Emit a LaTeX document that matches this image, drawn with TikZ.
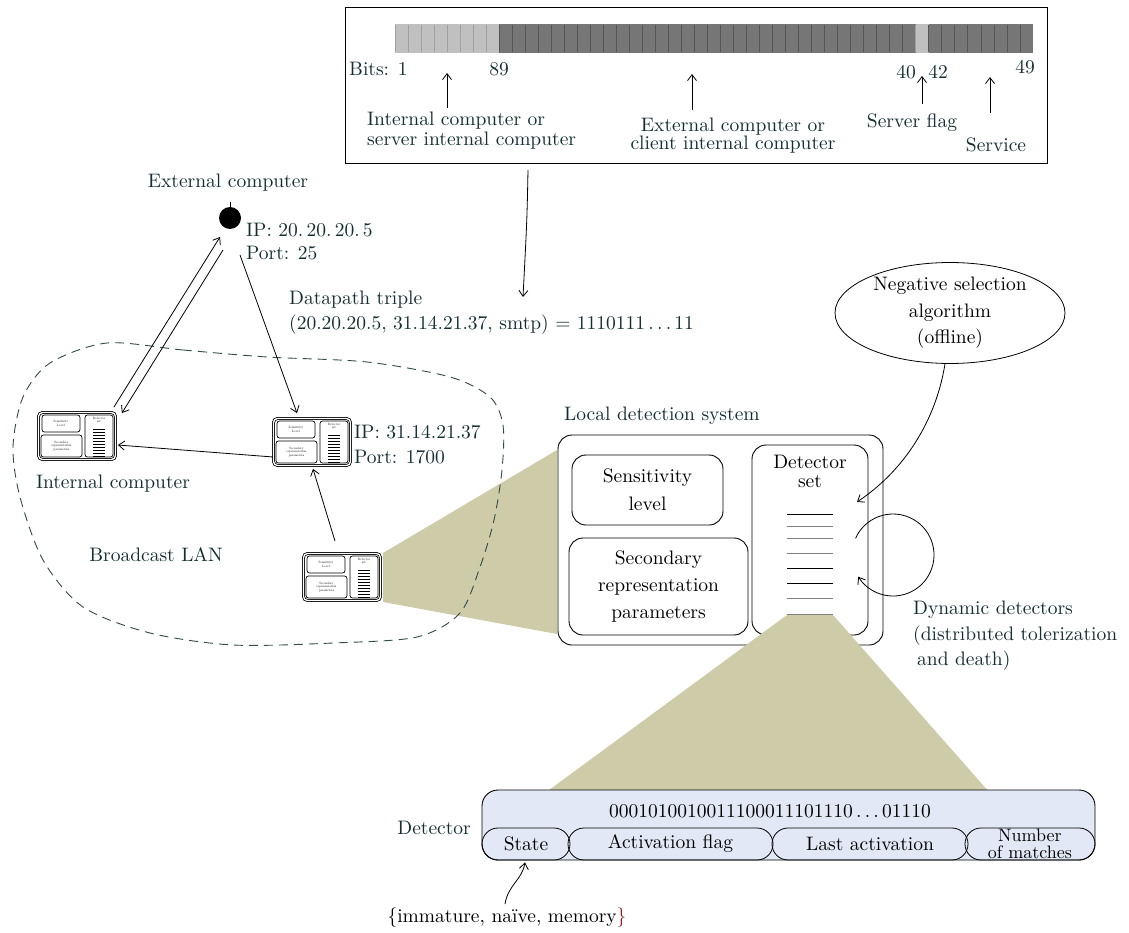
\documentclass[tikz,border=0pt]{standalone}
\usepackage{fontspec}
\setmainfont{lmroman10-regular.otf}
\usetikzlibrary{arrows.meta,shapes.geometric,calc}
\definecolor{labc}{RGB}{20,46,50}
\definecolor{khaki}{RGB}{205,203,168}
\definecolor{detblue}{RGB}{226,232,245}
\definecolor{bitlight}{RGB}{192,192,192}
\definecolor{bitdark}{RGB}{118,118,118}
\definecolor{seplight}{RGB}{160,160,160}
\definecolor{sepdark}{RGB}{85,85,85}
\definecolor{lanc}{RGB}{50,75,70}
\definecolor{braceR}{RGB}{150,30,30}
\begin{document}
\begin{tikzpicture}[x=1pt,y=-1pt,font=\fontsize{19.5}{24}\selectfont,
  lab/.style={text=labc,inner sep=0pt},
  txt/.style={inner sep=0pt},
  arr/.style={-{Straight Barb[length=6pt,width=9pt]},line width=0.8pt},
  bx/.style={draw,line width=0.9pt,rounded corners=14pt,align=center,inner sep=0pt},
  tinyfont/.style={font=\fontsize{3.2}{3.7}\selectfont,align=center,inner sep=0pt},
  comp/.pic={
    \node[draw,line width=0.8pt,double,double distance=1.3pt,rounded corners=4pt,
          minimum width=77pt,minimum height=47pt,inner sep=0pt] (-box) {};
    \draw[rounded corners=2.5pt,line width=0.7pt] (-35,-21) rectangle (3,-4);
    \node[tinyfont] (-sl) at (-16,-12.5) {Sensitivity\\Level};
    \draw[rounded corners=2.5pt,line width=0.7pt] (-36,-1) rectangle (5,21);
    \node[tinyfont] (-sr) at (-15.5,10) {Secondary\\representation\\parameters};
    \draw[rounded corners=2.5pt,line width=0.7pt] (8,-21) rectangle (36,21);
    \node[tinyfont] (-ds) at (22,-16) {Detector\\set};
    \foreach \yy in {-7,-4,...,20} \draw[line width=0.9pt] (16,\yy) -- (28,\yy);
  }]
\useasboundingbox (0,0) rectangle (1129,933);

% ---------- top bit field box ----------
\node[draw,line width=1pt,minimum width=702pt,minimum height=156pt,anchor=north west,inner sep=0pt] (topbox) at (345,7) {};
\foreach \i in {0,...,48}{
  \pgfmathsetmacro{\xa}{395+\i*13.02}
  \pgfmathsetmacro{\xb}{\xa+13.02}
  \ifnum\i<8 \def\fc{bitlight}\def\dc{seplight}\else
    \ifnum\i=40 \def\fc{bitlight}\def\dc{seplight}\else\def\fc{bitdark}\def\dc{sepdark}\fi\fi
  \fill[\fc] (\xa,24) rectangle (\xb,53);
  \draw[\dc,line width=0.8pt] (\xa,25) -- (\xa,52);
}
\node[lab,anchor=west] (bits1) at (349,69) {Bits: 1};
\node[lab] (b89) at (499,69) {89};
\node[lab] (b40) at (906,72) {40};
\node[lab] (b42) at (938,72) {42};
\node[lab] (b49) at (1025,67) {49};
\node[lab,anchor=west,align=left,font=\fontsize{19.5}{20}\selectfont] (intlab) at (367,131) {Internal computer or\\server internal computer};
\node[lab,align=center,font=\fontsize{19.5}{18}\selectfont] (extlab) at (733,136) {External computer or\\client internal computer};
\node[lab] (srvlab) at (912,123) {Server flag};
\node[lab] (svclab) at (996,145) {Service};
\coordinate (t1a) at (447,108); \coordinate (t1b) at (447,73);
\coordinate (t2a) at (692,110); \coordinate (t2b) at (692,74);
\coordinate (t3a) at (922,104); \coordinate (t3b) at (922,76);
\coordinate (t4a) at (990,113); \coordinate (t4b) at (990,77);
\draw[arr] (t1a) -- (t1b);
\draw[arr] (t2a) -- (t2b);
\draw[arr] (t3a) -- (t3b);
\draw[arr] (t4a) -- (t4b);
\coordinate (tbout) at (528,170);
\coordinate (dptip) at (523,297);
\draw[arr] (tbout) .. controls (527,220) .. (dptip);

% ---------- external computer ----------
\node[circle,fill=black,minimum size=22pt,inner sep=0pt] (ext) at (230,218) {};
\draw[line width=0.8pt] (ext.north) -- ++(0,-5);
\node[lab] (extname) at (228,183) {External computer};
\node[lab,anchor=west,align=left,font=\fontsize{19.5}{23}\selectfont] (extip) at (246,241.5) {IP: 20.\,20.\,20.\,5\\Port: 25};
\node[lab,anchor=west,align=left,font=\fontsize{19.5}{25}\selectfont] (dp) at (289,312.5) {Datapath triple\\(20.20.20.5, 31.14.21.37, smtp) = 1110111\,.\,.\,.\,11};

% khaki zoom wedge 1
\fill[khaki] (383,553) -- (557,450) -- (557,634) -- (383,602) -- cycle;

% ---------- LAN ----------
\draw[lanc,line width=0.9pt,dash pattern=on 9pt off 6pt] plot[smooth cycle] coordinates {
 (107,343) (183,350) (267,357) (367,362) (450,377) (490,397) (503,425) (502,470)
 (494,520) (480,567) (460,613) (417,637) (333,643) (233,645) (150,633) (83,607)
 (43,560) (20,497) (13,447) (23,397) (50,363)};

\pic (c1) at (77,436) {comp};
\pic (c2) at (312,442) {comp};
\pic (c3) at (342,577) {comp};

\draw[arr] ($(c1-box.north east)+(-2,-5)$) -- ($(ext)+(-10,19)$);
\draw[arr] ($(ext)+(-7,32)$) -- ($(c1-box.north east)+(6,1)$);
\draw[arr] ($(ext)+(10,37)$) -- ($(c2-box.north)+(-15,-5)$);
\draw[arr] ($(c2-box.west)+(0,15)$) -- ($(c1-box.east)+(2,9)$);
\draw[arr] ($(c3-box.north)+(-7,-12)$) -- ($(c2-box.south)+(1,3)$);

\node[lab] (intname) at (113,484) {Internal computer};
\node[lab,anchor=west,align=left,font=\fontsize{19.5}{25}\selectfont] (c2ip) at (354,444.5) {IP: 31.14.21.37\\Port: 1700};
\node[lab] (lan) at (156,555) {Broadcast LAN};

% ---------- local detection system ----------
\node[lab,anchor=west] (ldslab) at (564,416) {Local detection system};
\node[bx,fill=white,minimum width=325pt,minimum height=210pt] (lds) at (720.5,540) {};
\node[bx,minimum width=151pt,minimum height=70pt,font=\fontsize{19.5}{28}\selectfont] (sens) at (647.5,490) {Sensitivity\\level};
\node[bx,minimum width=179pt,minimum height=97pt,font=\fontsize{19.5}{27}\selectfont] (sec) at (658.5,586.5) {Secondary\\representation\\parameters};
\node[bx,minimum width=116pt,minimum height=190pt] (dset) at (810,540) {};
\node[txt,align=center,font=\fontsize{19.5}{19}\selectfont] (dsetlab) at (810,471.5) {Detector\\set};
\foreach \yy/\cc in {514/black,526/gray,538/gray,553/gray,568/black,583/black,598/gray,614/gray}
  \draw[\cc,line width=0.9pt] (787,\yy) -- (833,\yy);

% khaki zoom wedge 2
\fill[khaki] (787,615) -- (833,615) -- (990,793) -- (545,793) -- cycle;

% negative selection
\node[draw,ellipse,line width=0.8pt,minimum width=230pt,minimum height=100pt,inner sep=0pt,align=center,font=\fontsize{19.5}{26.5}\selectfont] (nsa) at (950,313) {Negative selection\\algorithm\\(offline)};
\coordinate (dsin) at (857,502);
\draw[arr] ($(nsa.south)+(-5,0)$) .. controls (936,420) and (905,470) .. (dsin);

% dynamic loop
\coordinate (cc) at (893,555);
\draw[arr] ($(cc)+(-156:41)$) arc[start angle=-156,end angle=148,radius=41];
\node[lab,anchor=west,align=left,font=\fontsize{19.5}{25.5}\selectfont] (dyn) at (913,636) {Dynamic detectors\\(distributed tolerization\\\hspace*{4pt}and death)};

% ---------- detector ----------
\node[draw,fill=detblue,line width=0.9pt,rounded corners=16pt,minimum width=613pt,minimum height=70pt,inner sep=0pt] (det) at (788.5,825) {};
\node[txt] (detbits) at (770,811) {0001010010011100011101110\,.\,.\,.\,01110};
\node[draw,line width=0.8pt,rounded corners=16pt,minimum width=88pt,minimum height=32pt,inner sep=0pt] (st) at (526,844) {State};
\node[draw,line width=0.8pt,rounded corners=16pt,minimum width=205pt,minimum height=32pt,inner sep=0pt] (af) at (670.5,844) {Activation flag};
\node[draw,line width=0.8pt,rounded corners=16pt,minimum width=196pt,minimum height=32pt,inner sep=0pt] (la) at (870,844) {Last activation};
\node[draw,line width=0.8pt,rounded corners=16pt,minimum width=130pt,minimum height=32pt,inner sep=0pt,align=center,font=\fontsize{18}{17}\selectfont] (nm) at (1030,844) {Number\\of matches};
\node[lab,anchor=east] (detlab) at (471,828) {Detector};
\node[txt] (imm) at (507,918) {\{immature, naïve, memory\textcolor{braceR}{\}}};
\draw[arr] ($(imm.north)+(-2,-4)$) .. controls (508,885) and (522,880) .. ($(st.south)+(-1,2)$);
\end{tikzpicture}
\end{document}
